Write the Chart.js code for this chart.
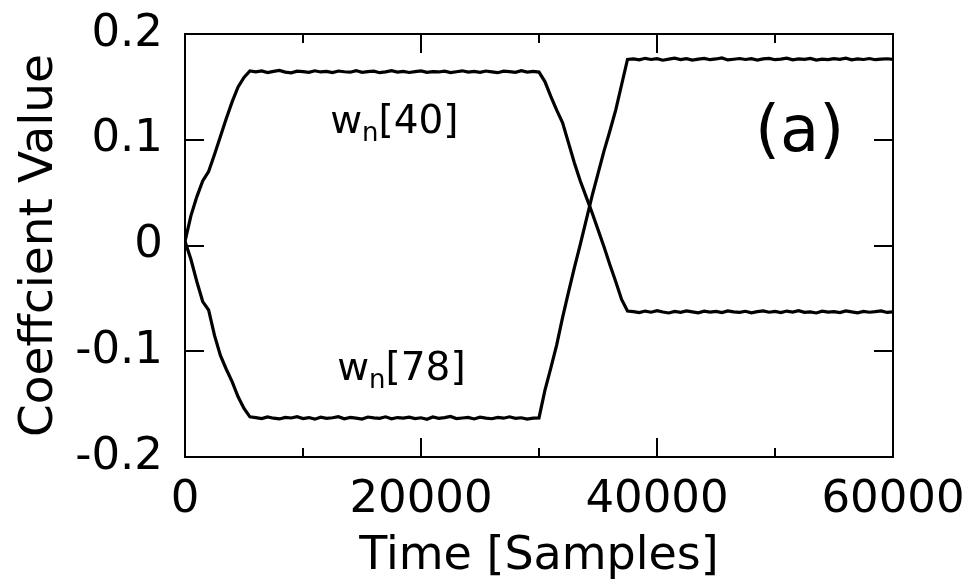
<!DOCTYPE html>
<html>
<head>
<meta charset="utf-8">
<script src="https://cdn.jsdelivr.net/npm/chart.js@4/dist/chart.umd.min.js"></script>
<style>
  html, body { margin: 0; padding: 0; background: #fff; }
  #wrap { width: 972px; height: 580px; position: relative; }
</style>
</head>
<body>
<div id="wrap"><canvas id="c" width="972" height="580"></canvas></div>
<script>
// ---------------- data ----------------
const timeSamples = [
  0,500,1000,1500,2000,2500,3000,3500,4000,4500,5000,5500,
  6000,6500,7000,7500,8000,8500,9000,9500,10000,10500,11000,11500,
  12000,12500,13000,13500,14000,14500,15000,15500,16000,16500,17000,17500,
  18000,18500,19000,19500,20000,20500,21000,21500,22000,22500,23000,23500,
  24000,24500,25000,25500,26000,26500,27000,27500,28000,28500,29000,29500,
  30000,30500,31000,31500,32000,32500,33000,33500,34000,34500,35000,35500,
  36000,36500,37000,37500,
  38000,38500,39000,39500,40000,40500,41000,41500,42000,42500,43000,43500,
  44000,44500,45000,45500,46000,46500,47000,47500,48000,48500,49000,49500,
  50000,50500,51000,51500,52000,52500,53000,53500,54000,54500,55000,55500,
  56000,56500,57000,57500,58000,58500,59000,59500,60000
];

const w40 = [
  0.004,0.028,0.046,0.061,0.070,0.086,0.103,0.120,0.136,0.150,0.159,0.165,
  0.1642,0.1651,0.1636,0.1647,0.1655,0.1640,0.1633,0.1649,0.1644,0.1638,0.1652,0.1641,
  0.1646,0.1635,0.1650,0.1643,0.1639,0.1654,0.1637,0.1645,0.1648,0.1634,0.1642,0.1653,
  0.1640,0.1647,0.1636,0.1644,0.1651,0.1638,0.1645,0.1641,0.1649,0.1635,0.1643,0.1652,
  0.1639,0.1646,0.1637,0.1650,0.1642,0.1634,0.1648,0.1644,0.1638,0.1653,0.1640,0.1646,
  0.164,0.155,0.141,0.128,0.116,0.097,0.078,0.061,0.046,0.031,0.015,-0.001,
  -0.018,-0.034,-0.051,-0.062,
  -0.0625,-0.0634,-0.0620,-0.0631,-0.0617,-0.0629,-0.0638,-0.0623,-0.0632,-0.0619,-0.0627,-0.0636,
  -0.0621,-0.0630,-0.0624,-0.0635,-0.0618,-0.0628,-0.0633,-0.0622,-0.0637,-0.0626,-0.0619,-0.0631,
  -0.0624,-0.0635,-0.0620,-0.0629,-0.0616,-0.0632,-0.0627,-0.0638,-0.0621,-0.0630,-0.0625,-0.0634,
  -0.0618,-0.0628,-0.0636,-0.0623,-0.0631,-0.0626,-0.0619,-0.0633,-0.0628
];

const w78 = [
  0.004,-0.013,-0.034,-0.053,-0.061,-0.085,-0.104,-0.117,-0.129,-0.143,-0.154,-0.162,
  -0.1628,-0.1637,-0.1621,-0.1633,-0.1640,-0.1625,-0.1631,-0.1618,-0.1636,-0.1627,-0.1642,-0.1623,
  -0.1634,-0.1629,-0.1619,-0.1638,-0.1626,-0.1632,-0.1641,-0.1622,-0.1630,-0.1635,-0.1620,-0.1639,
  -0.1627,-0.1633,-0.1624,-0.1637,-0.1629,-0.1643,-0.1621,-0.1634,-0.1628,-0.1617,-0.1636,-0.1631,
  -0.1625,-0.1640,-0.1623,-0.1632,-0.1638,-0.1626,-0.1633,-0.1620,-0.1635,-0.1629,-0.1641,-0.1632,
  -0.163,-0.137,-0.116,-0.094,-0.068,-0.044,-0.021,0.001,0.024,0.047,0.068,0.089,
  0.108,0.128,0.152,0.176,
  0.1765,0.1756,0.1770,0.1759,0.1767,0.1752,0.1763,0.1771,0.1758,0.1766,0.1754,0.1762,
  0.1769,0.1757,0.1764,0.1773,0.1755,0.1761,0.1768,0.1759,0.1766,0.1753,0.1764,0.1770,
  0.1757,0.1762,0.1772,0.1756,0.1765,0.1760,0.1769,0.1754,0.1763,0.1758,0.1767,0.1761,
  0.1771,0.1755,0.1764,0.1759,0.1768,0.1757,0.1763,0.1766,0.1760
];

const xTickValues = [0, 20000, 40000, 60000];
const xTickLabels = ['0', '20000', '40000', '60000'];
const xMinorTicks = [10000, 30000, 50000];
const yTickValues = [-0.2, -0.1, 0, 0.1, 0.2];
const yTickLabels = ['-0.2', '-0.1', '0', '0.1', '0.2'];

const xTitle = 'Time [Samples]';
const yTitle = 'Coeffcient Value';
const seriesNames = ['40', '78'];
const panelTag = '(a)';

// annotation anchors (data coordinates)
const annotations = [
  { kind: 'series', name: seriesNames[0], x: 12300, y: 0.1060 },
  { kind: 'series', name: seriesNames[1], x: 12900, y: -0.1276 },
  { kind: 'tag', text: panelTag, x: 48300, y: 0.0895 }
];

// ---------------- chart ----------------
const FONT = "'DejaVu Sans', Verdana, sans-serif";

const framePlugin = {
  id: 'frame',
  afterDatasetsDraw(chart) {
    const { ctx, chartArea: a, scales: { x, y } } = chart;
    ctx.save();
    ctx.strokeStyle = '#000';
    ctx.lineWidth = 2;
    ctx.lineCap = 'butt';
    ctx.strokeRect(a.left, a.top, a.right - a.left, a.bottom - a.top);
    ctx.beginPath();
    yTickValues.forEach(v => {
      const py = Math.round(y.getPixelForValue(v));
      ctx.moveTo(a.left, py); ctx.lineTo(a.left + 19, py);
      ctx.moveTo(a.right, py); ctx.lineTo(a.right - 19, py);
    });
    xTickValues.forEach(v => {
      const px = Math.round(x.getPixelForValue(v));
      ctx.moveTo(px, a.bottom); ctx.lineTo(px, a.bottom - 19);
      ctx.moveTo(px, a.top); ctx.lineTo(px, a.top + 19);
    });
    xMinorTicks.forEach(v => {
      const px = Math.round(x.getPixelForValue(v));
      ctx.moveTo(px, a.bottom); ctx.lineTo(px, a.bottom - 9);
      ctx.moveTo(px, a.top); ctx.lineTo(px, a.top + 9);
    });
    ctx.stroke();

    ctx.fillStyle = '#000';
    ctx.textBaseline = 'alphabetic';
    ctx.textAlign = 'left';
    annotations.forEach(an => {
      let px = x.getPixelForValue(an.x);
      const py = y.getPixelForValue(an.y);
      if (an.kind === 'series') {
        ctx.font = '39px ' + FONT;
        ctx.fillText('w', px, py);
        px += ctx.measureText('w').width;
        ctx.font = '26px ' + FONT;
        ctx.fillText('n', px, py + 8);
        px += ctx.measureText('n').width;
        ctx.font = '39px ' + FONT;
        ctx.fillText('[' + an.name + ']', px, py);
      } else {
        ctx.font = '64px ' + FONT;
        ctx.fillText(an.text, px, py);
      }
    });
    ctx.restore();
  }
};

const toPoints = arr => timeSamples.map((t, i) => ({ x: t, y: arr[i] }));
const hiddenGrid = (len) => ({
  display: true, drawOnChartArea: false, drawTicks: true,
  tickLength: len, color: 'rgba(0,0,0,0)', tickColor: 'rgba(0,0,0,0)'
});

new Chart(document.getElementById('c'), {
  type: 'line',
  data: {
    datasets: [
      { label: 'w_n[40]', data: toPoints(w40), borderColor: '#000', borderWidth: 3.2, pointRadius: 0, tension: 0, fill: false },
      { label: 'w_n[78]', data: toPoints(w78), borderColor: '#000', borderWidth: 3.2, pointRadius: 0, tension: 0, fill: false }
    ]
  },
  options: {
    responsive: false,
    animation: false,
    devicePixelRatio: 1,
    layout: { padding: { top: 34, right: 79, left: 0, bottom: 0 } },
    plugins: { legend: { display: false }, tooltip: { enabled: false } },
    scales: {
      x: {
        type: 'linear',
        min: 0, max: 60000,
        afterBuildTicks: s => { s.ticks = xTickValues.map(v => ({ value: v })); },
        afterFit: s => { s.height = 123; },
        grid: hiddenGrid(16),
        border: { display: false },
        ticks: {
          autoSkip: false, maxRotation: 0,
          padding: 0,
          color: '#000',
          font: { family: FONT, size: 45 },
          callback: (v) => xTickLabels[xTickValues.indexOf(v)]
        },
        title: {
          display: true, text: xTitle, color: '#000',
          font: { family: FONT, size: 46, lineHeight: 1 },
          padding: { top: 0, bottom: 0 }
        }
      },
      y: {
        type: 'linear',
        min: -0.2, max: 0.2,
        afterBuildTicks: s => { s.ticks = yTickValues.map(v => ({ value: v })); },
        afterFit: s => { s.width = 185; },
        grid: hiddenGrid(22),
        border: { display: false },
        ticks: {
          autoSkip: false,
          padding: 0,
          color: '#000',
          font: { family: FONT, size: 45 },
          callback: (v) => {
            const i = yTickValues.findIndex(t => Math.abs(t - v) < 1e-9);
            return i >= 0 ? yTickLabels[i] : '';
          }
        },
        title: {
          display: true, text: yTitle, color: '#000',
          font: { family: FONT, size: 47, lineHeight: 1 },
          padding: { top: 16, bottom: 0 }
        }
      }
    }
  },
  plugins: [framePlugin]
});
</script>
</body>
</html>
